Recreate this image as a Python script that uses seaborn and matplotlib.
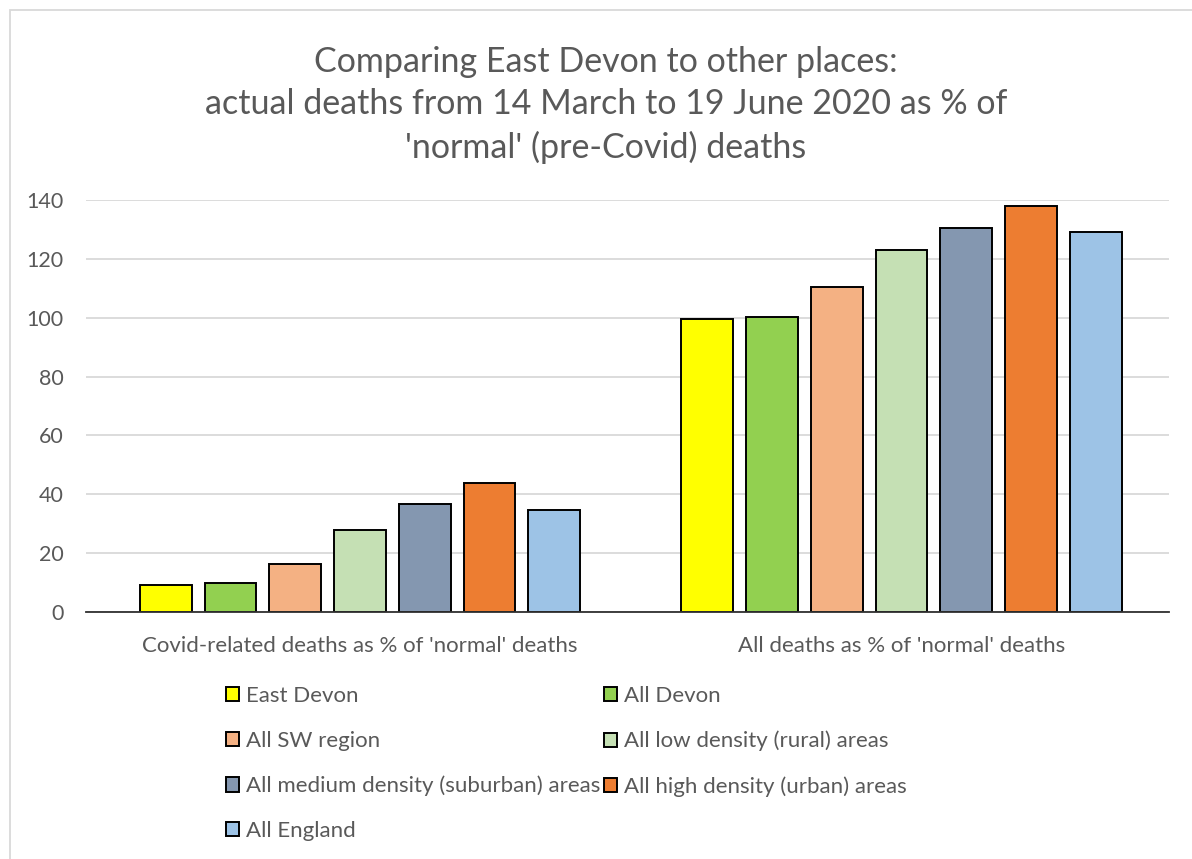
import matplotlib
matplotlib.use("Agg")
import matplotlib.pyplot as plt
import seaborn as sns
import pandas as pd
from matplotlib.patches import Rectangle

# ---- data ----
measures = ["Covid-related deaths as % of 'normal' deaths",
            "All deaths as % of 'normal' deaths"]
areas = ["East Devon", "All Devon", "All SW region", "All low density (rural) areas",
         "All medium density (suburban) areas", "All high density (urban) areas",
         "All England"]
covid_pct = [9.3, 9.8, 16.3, 28.0, 36.7, 43.8, 34.7]
all_pct = [99.4, 100.3, 110.5, 123.0, 130.6, 138.1, 129.1]
colors = ["#FFFF00", "#92D050", "#F4B183", "#C5E0B4", "#8497B0", "#ED7D31", "#9DC3E6"]
yticks = [0, 20, 40, 60, 80, 100, 120, 140]
title = ("Comparing East Devon to other places:\n"
         "actual deaths from 14 March to 19 June 2020 as % of\n"
         "'normal' (pre-Covid) deaths")

rows = []
for a, c, v in zip(areas, covid_pct, all_pct):
    rows.append({"measure": measures[0], "area": a, "value": c})
    rows.append({"measure": measures[1], "area": a, "value": v})
df = pd.DataFrame(rows)

sns.set_theme(style="white")
plt.rcParams['font.family'] = ['Lato', 'DejaVu Sans']
TXT = "#595959"

W, H = 1192, 859
fig = plt.figure(figsize=(W / 100, H / 100), dpi=100)
ax = fig.add_axes([86 / W, 1 - 612 / H, (1169 - 86) / W, (612 - 200) / H])

sns.barplot(data=df, x="measure", y="value", hue="area", order=measures,
            hue_order=areas, palette=colors, saturation=1, width=0.837, gap=0.2,
            edgecolor="black", linewidth=1.4, ax=ax, zorder=3)

ax.set_xlim(-0.506, 1.494)
ax.set_ylim(0, 140)
ax.set_yticks(yticks)
ax.set_yticklabels([str(t) for t in yticks], fontsize=15.5, color=TXT)
ax.tick_params(axis="y", length=0, pad=16)
ax.tick_params(axis="x", length=0, pad=17, labelsize=16, labelcolor=TXT)
ax.set_xlabel("")
ax.set_ylabel("")
ax.grid(axis="y", color="#D9D9D9", linewidth=1.3, zorder=0)
ax.set_axisbelow(True)
for s in ["left", "right", "top"]:
    ax.spines[s].set_visible(False)
ax.spines["bottom"].set_color("#303030")
ax.spines["bottom"].set_linewidth(1.3)
ax.spines["bottom"].set_zorder(5)

handles, labels = ax.get_legend_handles_labels()
ax.get_legend().remove()
order = [0, 2, 4, 6, 1, 3, 5]
leg = fig.legend([handles[i] for i in order], [labels[i] for i in order],
                 loc="upper left", bbox_to_anchor=(226 / W, 1 - 686 / H),
                 ncol=2, frameon=False, fontsize=16, labelcolor=TXT,
                 handlelength=0.6, handleheight=0.6, handletextpad=0.3,
                 columnspacing=0.15, labelspacing=1.12, borderpad=0, borderaxespad=0)

fig.text(606 / W, 1 - 105 / H, title, ha="center", va="center", fontsize=24.5,
         color=TXT, linespacing=1.38)

fig.patches.append(Rectangle((10 / W, -0.1), 1.2, 1.1 - 10 / H,
                             transform=fig.transFigure, fill=False,
                             edgecolor="#D9D9D9", linewidth=1.3))

fig.savefig("out.png", dpi=100, facecolor="white")
